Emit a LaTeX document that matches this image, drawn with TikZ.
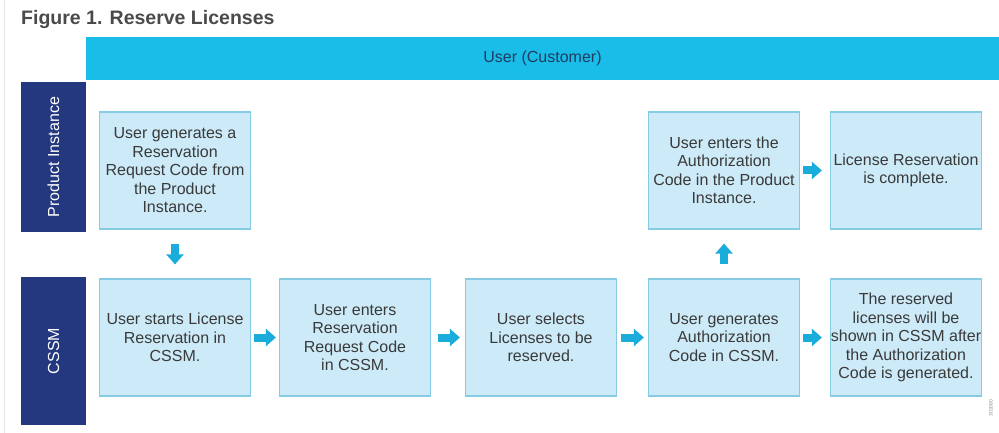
\documentclass[tikz,border=0pt]{standalone}
\usepackage{fontspec}
\setmainfont{Liberation Sans}
\usepackage{tikz}
\usetikzlibrary{arrows.meta}
\definecolor{ResCyan}{HTML}{1ABCE8}
\definecolor{ResNavy}{HTML}{24387F}
\definecolor{ResPale}{HTML}{CCEAF7}
\definecolor{ResEdge}{HTML}{86CBE4}
\definecolor{ResArrow}{HTML}{1AADDB}
\definecolor{ResText}{HTML}{3A3A3A}
\definecolor{ResTitle}{HTML}{4A4A4A}
\definecolor{ResHead}{HTML}{1F3D63}
\tikzset{
  stepbox/.style={draw=ResEdge,line width=1.2pt,fill=ResPale,minimum width=151pt,
    minimum height=117pt,align=center,inner sep=0pt,
    font=\fontsize{16}{18.5}\selectfont,text=ResText},
  laneband/.style={fill=ResNavy,minimum height=65pt,inner sep=0pt,text=white,
    font=\fontsize{16}{18.5}\selectfont,rotate=90},
  userbar/.style={fill=ResCyan,minimum width=913pt,minimum height=43pt,inner sep=0pt,
    font=\fontsize{16}{18.5}\selectfont,text=ResHead},
  blockflow/.style={-{Triangle[length=10pt,width=17pt]},line width=8pt,draw=ResArrow,
    shorten <=4pt,shorten >=4pt},
  upflow/.style={blockflow,shorten <=14pt,shorten >=14pt}
}
\begin{document}
\begin{tikzpicture}[x=1pt,y=-1pt]
  \useasboundingbox (0,0) rectangle (999,433);
  \draw[black!10,line width=1pt] (4.5,0) -- (4.5,433);
  \node[anchor=base west,font=\fontsize{19.5}{22}\selectfont\bfseries,text=ResTitle,inner sep=0pt]
    (title) at (21,25) {Figure 1. Reserve Licenses};

  \node[userbar] (usercust) at (542.5,58.5) {User (Customer)};
  \node[laneband,minimum width=150pt] (piband) at (53.5,157) {Product Instance};
  \node[laneband,minimum width=148pt] (cssmband) at (53.5,351) {CSSM};

  \node[stepbox] (genreq) at (175,170.5) {User generates a\\Reservation\\Request Code from\\the Product\\Instance.};
  \node[stepbox] (enterauth) at (724,170.5) {User enters the\\Authorization\\Code in the Product\\Instance.};
  \node[stepbox] (resdone) at (906,170.5) {License Reservation\\is complete.};

  \node[stepbox] (startres) at (175,337.5) {User starts License\\Reservation in\\CSSM.};
  \node[stepbox] (enterreq) at (355,337.5) {User enters\\Reservation\\Request Code\\in CSSM.};
  \node[stepbox] (selectlic) at (541,337.5) {User selects\\Licenses to be\\reserved.};
  \node[stepbox] (genauth) at (724,337.5) {User generates\\Authorization\\Code in CSSM.};
  \node[stepbox] (shownlic) at (906,337.5) {The reserved\\licenses will be\\shown in CSSM after\\the Authorization\\Code is generated.};

  \draw[upflow] (genreq) -- (startres);
  \draw[blockflow,shorten <=3pt,shorten >=3pt] (startres) -- (enterreq);
  \draw[blockflow,shorten <=7pt,shorten >=5pt] (enterreq) -- (selectlic);
  \draw[blockflow] (selectlic) -- (genauth);
  \draw[blockflow,shorten <=3pt,shorten >=8pt] (genauth) -- (shownlic);
  \draw[upflow] (genauth) -- (enterauth);
  \draw[blockflow,shorten <=3pt,shorten >=8pt] (enterauth) -- (resdone);

  \node[rotate=90,font=\fontsize{5}{6}\selectfont,text=black!45,inner sep=0pt] (figid) at (991,408) {302080};
\end{tikzpicture}
\end{document}
